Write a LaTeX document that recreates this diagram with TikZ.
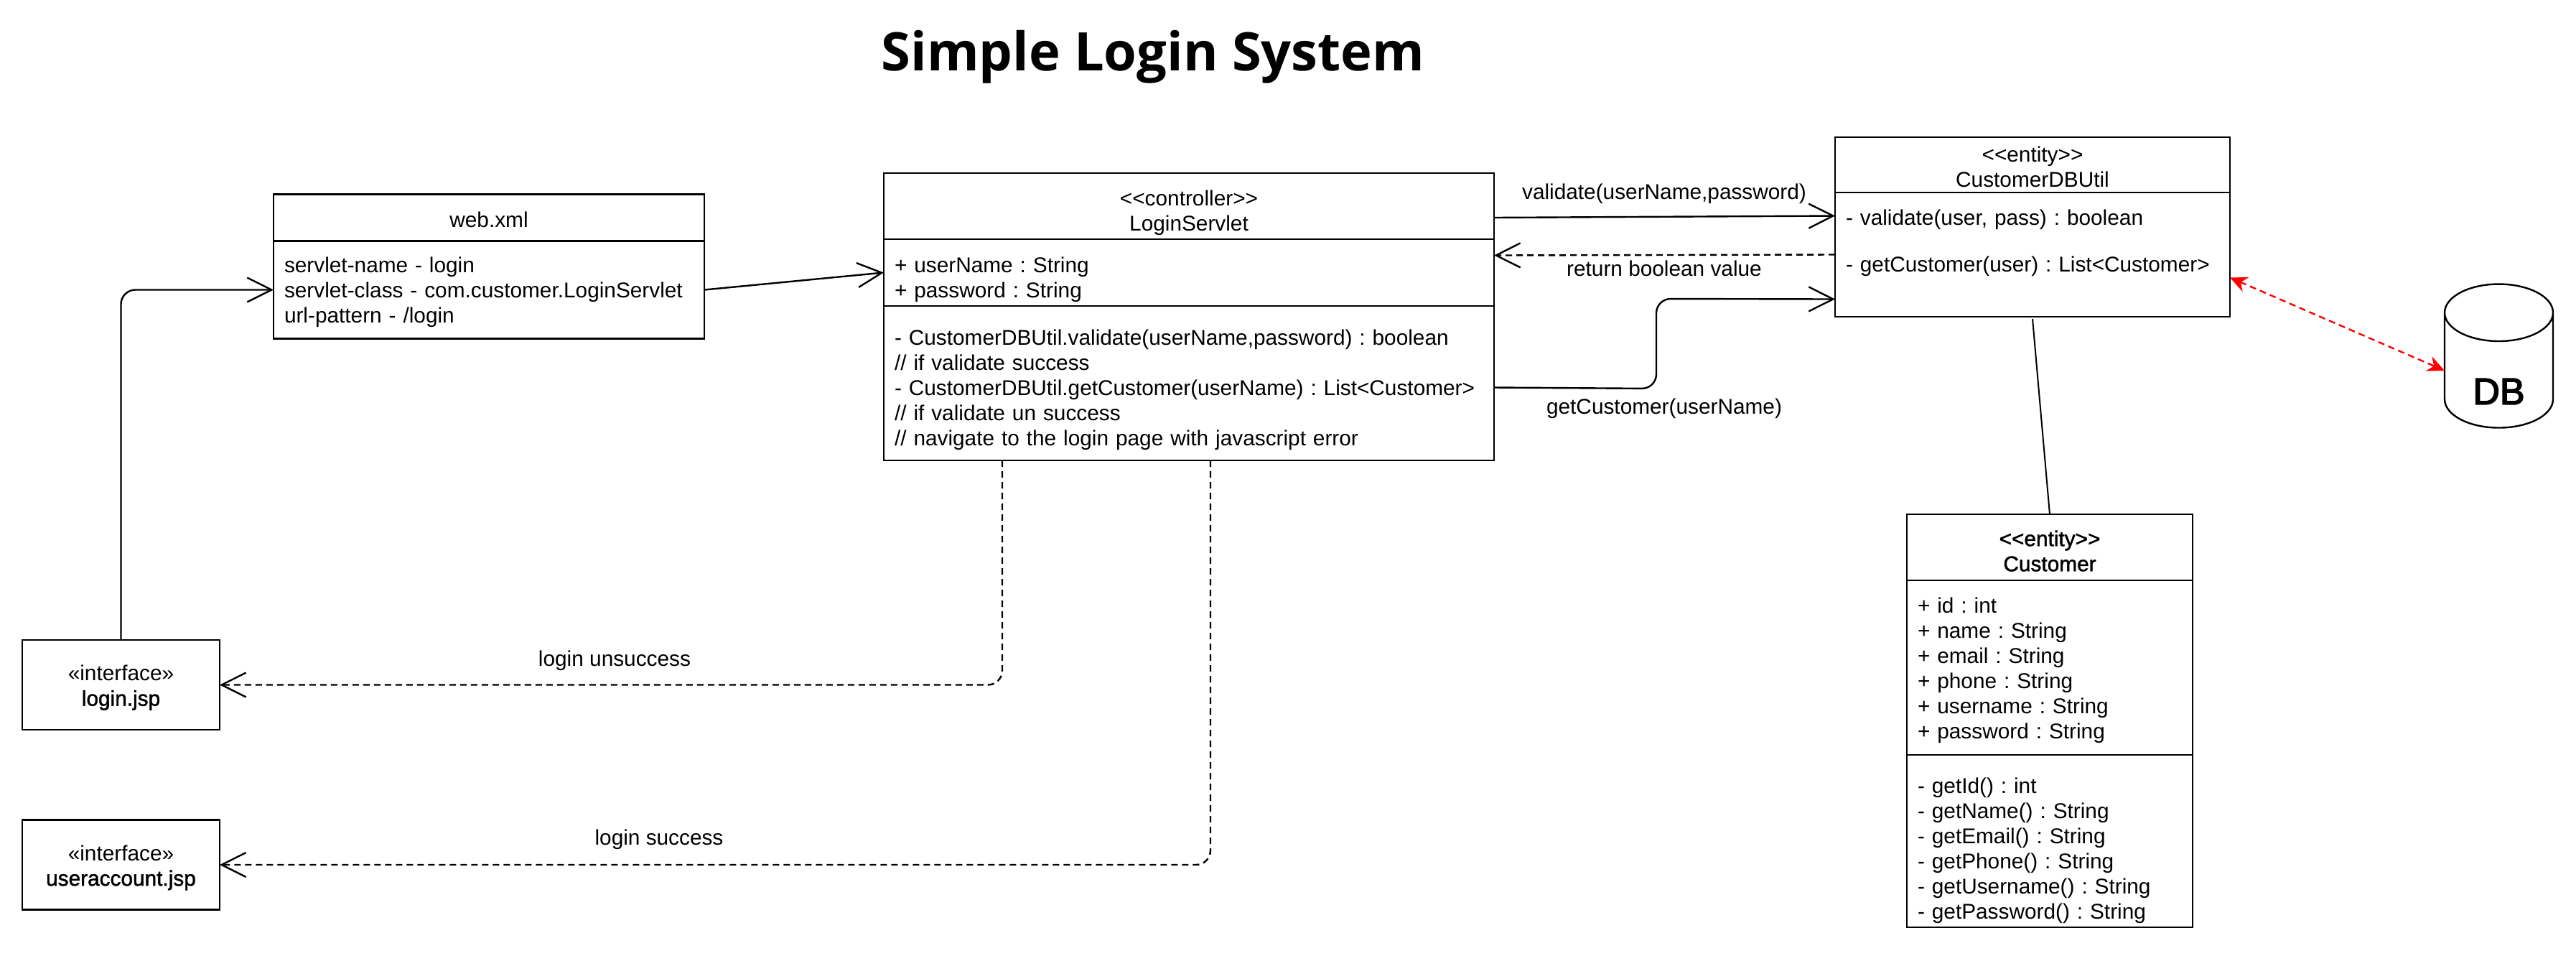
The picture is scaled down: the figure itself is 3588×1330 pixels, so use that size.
\documentclass[tikz,border=0pt]{standalone}
\usepackage{fontspec}
\setmainfont{Liberation Sans}
\newfontfamily\titlefont{Open Sans}
\newfontfamily\heavyfont{Liberation Sans}[FakeBold=1.5]
\newfontfamily\dbfont{Liberation Sans}[FakeBold=3]
\newcommand{\stereotype}[1]{\textless\kern0pt\textless #1\textgreater\kern0pt\textgreater}
\usetikzlibrary{arrows.meta,positioning,shapes.geometric}
\tikzset{
  class part/.style={draw,line width=1.2pt,outer sep=0pt,inner ysep=0pt,inner xsep=7.5pt,font=\frenchspacing\fontsize{14.9}{17.5}\selectfont},
  class head/.style={class part,align=center},
  class body/.style={class part,align=left},
  edge label/.style={font=\frenchspacing\fontsize{14.9}{17.5}\selectfont,inner sep=0pt},
  open edge/.style={-{Straight Barb[length=17pt,width=17pt]},line width=1.2pt},
  open dash/.style={open edge,dash pattern=on 4.5pt off 3pt},
  db edge/.style={{Stealth[length=12pt,width=11pt]}-{Stealth[length=12pt,width=11pt]},red,line width=1.2pt,dash pattern=on 4.5pt off 3pt},
}
\begin{document}
\begin{tikzpicture}[x=0.5pt,y=-0.5pt]
  \useasboundingbox (0,0) rectangle (3588,1330);
  \node[inner sep=0pt,font=\titlefont\bfseries\fontsize{37}{44}\selectfont] (title) at (1606,79) {Simple Login System};

  \node[class head,minimum width=300pt,minimum height=32.5pt] (webHead) at (681,303) {\mbox{}\\[-3.9pt]web.xml};
  \node[class body,minimum width=300pt,minimum height=68pt,text width=285pt,below=0pt of webHead] (webBody) {\mbox{}\\[-3.9pt]servlet-name - login\\servlet-class - com.customer.LoginServlet\\url-pattern - /login};

  \node[class head,minimum width=425pt,minimum height=46pt] (servletHead) at (1656,287) {\mbox{}\\[2.2pt]\stereotype{controller}\\LoginServlet};
  \node[class body,minimum width=425pt,minimum height=46.5pt,text width=410pt,below=0pt of servletHead] (servletAttr) {\mbox{}\\[2.9pt]+ userName : String\\+ password : String};
  \node[class body,minimum width=425pt,minimum height=107.5pt,text width=410pt,below=0pt of servletAttr] (servletMethods) {\mbox{}\\[2.7pt]- CustomerDBUtil.validate(userName,password) : boolean\\// if validate success\\- CustomerDBUtil.getCustomer(userName) : List\textless Customer\textgreater\\// if validate un success\\// navigate to the login page with javascript error};

  \node[class head,minimum width=275pt,minimum height=38.5pt] (dbutilHead) at (2831,229.5) {\mbox{}\\[-3.9pt]\stereotype{entity}\\CustomerDBUtil};
  \node[class body,minimum width=275pt,minimum height=86.5pt,text width=260pt,below=0pt of dbutilHead] (dbutilBody) {- validate(user, pass) : boolean\\[15pt]- getCustomer(user) : List\textless Customer\textgreater\\[2pt]\mbox{}};

  \node[class head,minimum width=199pt,minimum height=45.75pt] (customerHead) at (2855,762) {\mbox{}\\[-1.6pt]{\heavyfont\stereotype{entity}}\\{\heavyfont Customer}};
  \node[class body,minimum width=199pt,minimum height=121.5pt,text width=184pt,below=0pt of customerHead] (customerAttr) {\mbox{}\\[-2.8pt]+ id : int\\+ name : String\\+ email : String\\+ phone : String\\+ username : String\\+ password : String};
  \node[class body,minimum width=199pt,minimum height=120pt,text width=184pt,below=0pt of customerAttr] (customerMethods) {\mbox{}\\[7.2pt]- getId() : int\\- getName() : String\\- getEmail() : String\\- getPhone() : String\\- getUsername() : String\\- getPassword() : String};

  \node[class head,minimum width=137.5pt,minimum height=62.5pt] (loginPage) at (168.5,953.5) {\mbox{}\\[-2.8pt]«interface»\\{\heavyfont login.jsp}};
  \node[class head,minimum width=137.5pt,minimum height=62.5pt] (accountPage) at (168.5,1204) {\mbox{}\\[-2.8pt]«interface»\\{\heavyfont useraccount.jsp}};

  \node[draw,cylinder,shape border rotate=90,aspect=1.1,minimum width=75.5pt,minimum height=100pt,line width=1.2pt,outer sep=0pt,inner sep=0pt,font=\fontsize{26}{30}\selectfont] (db) at (3480.5,516) {\phantom{DB}};
  \node[inner sep=0pt,font=\dbfont\fontsize{26}{30}\selectfont] (dbText) at (3480.5,545) {DB};

  \draw[open edge,rounded corners=10pt] (loginPage.north) |- (webBody.west);
  \draw[open edge] (webBody.east) -- (servletAttr.west);
  \draw[open edge] ([yshift=-8pt]servletHead.east) -- ([yshift=27pt]dbutilBody.west);
  \draw[open dash] (dbutilBody.west) -- ([yshift=12pt]servletAttr.east);
  \draw[open edge,rounded corners=10pt] ([yshift=-3pt]servletMethods.east) -- (2307,541) -- (2307,416) -- ([yshift=-31pt]dbutilBody.west);
  \draw[open dash,rounded corners=10pt] ([xshift=-130pt]servletMethods.south) |- (loginPage.east);
  \draw[open dash,rounded corners=10pt] ([xshift=15pt]servletMethods.south) |- (accountPage.east);
  \draw[db edge] ([yshift=-16pt]dbutilBody.east) -- (db.180);
  \draw[line width=1pt] ([yshift=-1.5pt]dbutilBody.south) -- (customerHead.north);

  \node[edge label] (validateLabel) at (2318,270) {validate(userName,password)};
  \node[edge label] (returnLabel) at (2318,374) {return boolean value};
  \node[edge label] (getLabel) at (2318,569) {getCustomer(userName)};
  \node[edge label] (failLabel) at (856,920) {login unsuccess};
  \node[edge label] (okLabel) at (918,1169) {login success};
\end{tikzpicture}
\end{document}
